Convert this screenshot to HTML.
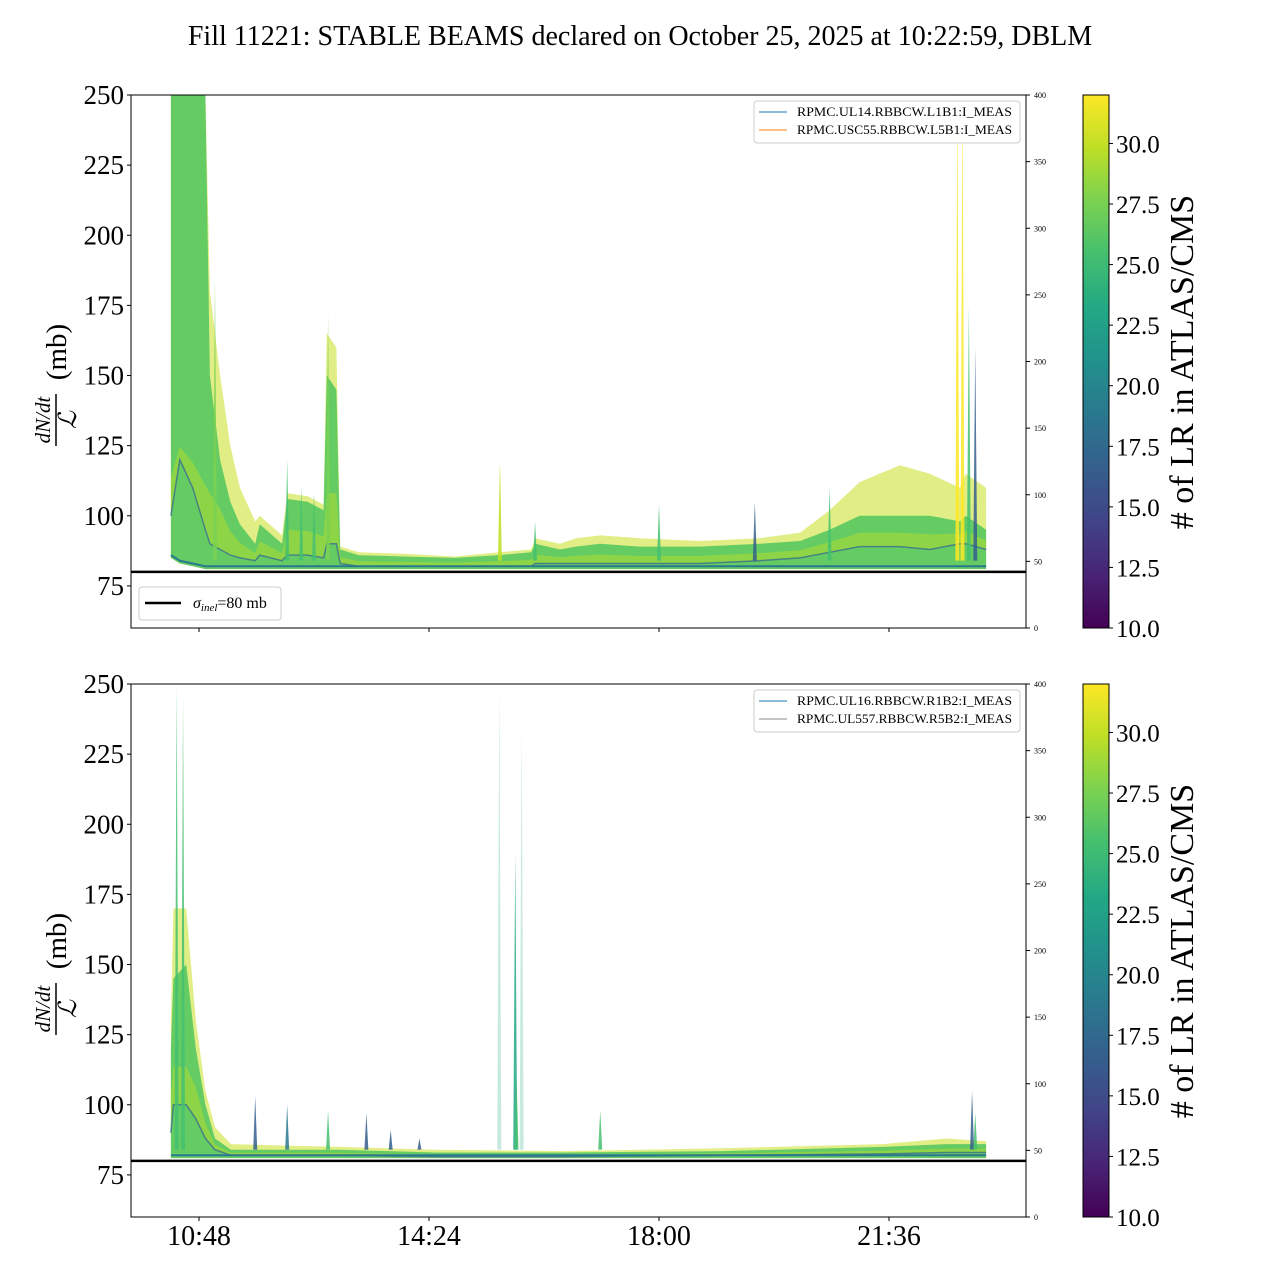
<!DOCTYPE html>
<html><head><meta charset="utf-8">
<style>
html,body{margin:0;padding:0;background:#fff;}
svg{display:block;font-family:"Liberation Serif",serif;}
</style></head>
<body>
<svg id="chart" width="1280" height="1280" viewBox="0 0 1280 1280">
<defs>
<linearGradient id="viridis" x1="0" y1="1" x2="0" y2="0">
<stop offset="0" stop-color="#440154"/><stop offset="0.1" stop-color="#482475"/><stop offset="0.2" stop-color="#414487"/>
<stop offset="0.3" stop-color="#355f8d"/><stop offset="0.4" stop-color="#2a788e"/><stop offset="0.5" stop-color="#21918c"/>
<stop offset="0.6" stop-color="#22a884"/><stop offset="0.7" stop-color="#44bf70"/><stop offset="0.8" stop-color="#7ad151"/>
<stop offset="0.9" stop-color="#bddf26"/><stop offset="1" stop-color="#fde725"/>
</linearGradient>
</defs>
<text x="640" y="45" font-size="28" text-anchor="middle">Fill 11221: STABLE BEAMS declared on October 25, 2025 at 10:22:59, DBLM</text>
<g id="top"></g>
<g id="bot"></g>
</svg>
<script>
// ---- data ----
const xTickLabels = ["10:48","14:24","18:00","21:36"];
const xTickHours = [10.8, 14.4, 18.0, 21.6];
const yTicks = [75,100,125,150,175,200,225,250];
const rightTicks = [0,50,100,150,200,250,300,350,400];
const cbTicks = [10.0,12.5,15.0,17.5,20.0,22.5,25.0,27.5,30.0];

const topT    = [10.36,10.5,10.7,10.9,10.97,11.13,11.29,11.44,11.68,11.75,12.1,12.18,12.5,12.75,12.8,12.95,13.01,13.3,14.0,14.8,15.5,16.0,16.06,16.45,16.7,17.08,17.7,18.64,19.58,20.21,20.67,21.14,21.77,22.24,22.71,22.8,23.12];
const topLow  = [85,83,82,81,81,81,81,81,81,81,81,81,81,81,81,81,81,81,81,81,81,81,81,81,81,81,81,81,81,81,81,81,81,81,81,81,81];
const topDark = [100,120,110,95,90,88,86,85,84,86,84,86,86,85,90,90,83,82,82,82,82,82,83,83,83,83,83,83,84,85,87,89,89,88,90,90,88];
const topMid  = [250,250,250,250,150,120,105,97,90,97,90,106,105,102,150,145,88,86,85.5,85,86,87,90,88,89,90,89,89,90,91,95,100,100,100,98,100,95];
const topHigh = [250,250,250,250,180,150,125,110,98,100,93,108,107,104,165,160,89,87,86.5,85.5,87,88,92,90,92,93,92,91,92,94,102,112,118,115,110,115,110];
const topSpikeT = [11.05,12.18,12.4,12.6,12.82,15.51,16.06,18.0,19.5,20.67,22.67,22.75,22.85,22.95];
const topSpikeV = [185,120,110,108,172,120,98,104,105,110,250,250,175,160];
const topSpikeC = [27,26,26,26,27,29,25,25,17,25,31,31,26,17];

const botT    = [10.36,10.4,10.6,10.75,10.9,11.05,11.3,13.0,14.5,16.5,19.0,21.5,22.5,23.12];
const botLow  = [81,81,81,81,81,81,81,81,81,81,81,81,81,81];
const botDark = [90,100,100,95,88,84,82,82,81.5,81.5,82,82.5,83,83];
const botMid  = [120,145,150,120,100,88,84,84,83,83,83.5,85,86,86];
const botHigh = [130,170,170,130,105,92,86,85,84,83.5,84.5,86,88,87];
const botSpikeT = [10.45,10.55,11.68,12.18,12.82,13.42,13.8,14.25,15.5,15.75,15.85,15.77,17.08,22.9,22.95];
const botSpikeV = [250,245,103,100,98,97,91,88,250,190,235,110,98,105,97];
const botSpikeC = [26,26,17,18,25,17,17,17,24,24,24,26,25,17,26];

// ---- helpers ----
const NS="http://www.w3.org/2000/svg";
const AX_L=131, AX_R=1026;
function xs(h){return 199+(h-10.8)*(230/3.6);}
function mk(tag,attrs,parent){const e=document.createElementNS(NS,tag);for(const k in attrs)e.setAttribute(k,attrs[k]);parent.appendChild(e);return e;}
const vir=["#440154","#482475","#414487","#355f8d","#2a788e","#21918c","#22a884","#44bf70","#7ad151","#bddf26","#fde725"];
function vcol(v){let f=(v-10)/22;f=Math.max(0,Math.min(1,f));return vir[Math.round(f*10)];}

function panel(g,top,T,L,D,M,H,ST,SV,SC,legend,showX,legNames,legColors){
  const bot=top+533;
  const ys=v=>bot-(v-60)*(533/190);
  const yr=v=>bot-v*(533/400);
  const clip="c"+top;
  const cp=mk("clipPath",{id:clip},g);mk("rect",{x:AX_L,y:top,width:AX_R-AX_L,height:533},cp);
  const data=mk("g",{"clip-path":"url(#"+clip+")"},g);
  
  
  function band(lo,hi,fill,op,name){
    let d="M"+T.map((t,i)=>xs(t).toFixed(1)+","+ys(hi[i]).toFixed(1)).join("L");
    for(let i=T.length-1;i>=0;i--)d+="L"+xs(T[i]).toFixed(1)+","+ys(lo[i]).toFixed(1);
    const p=mk("path",{d:d+"Z",fill:fill,"fill-opacity":op},data);
    
    
  }
  band(L,H,"#c8e020",0.55,"band-outer");
  band(L,M,"#5ec962",0.95,"band-mid");
  const inner=M.map((m,i)=>D[i]+(Math.min(m,130)-D[i])*0.45);
  band(D,inner,"#a8db34",0.6,"band-inner");
  const dl=mk("polyline",{points:T.map((t,i)=>xs(t).toFixed(1)+","+ys(D[i]).toFixed(1)).join(" "),fill:"none",stroke:"#3b6f8e","stroke-width":1.5,"stroke-opacity":0.8},data);
  
  
  const ll=mk("polyline",{points:T.map((t,i)=>xs(t).toFixed(1)+","+ys(L[i]+1).toFixed(1)).join(" "),fill:"none",stroke:"#2a788e","stroke-width":2},data);
  
  
  ST.forEach((t,i)=>{
    const x=xs(t);
    const s=mk("path",{d:`M${x-2},${ys(84)} L${x},${ys(SV[i])} L${x+2},${ys(84)}Z`,fill:vcol(SC[i]),"fill-opacity":SV[i]>200&&SC[i]<25?0.25:0.85},data);
    
    
  });
  const sl=mk("line",{x1:AX_L,x2:AX_R,y1:ys(80),y2:ys(80),stroke:"#000","stroke-width":2.5},g);
  
  
  const fr=mk("rect",{x:AX_L,y:top,width:AX_R-AX_L,height:533,fill:"none",stroke:"#000","stroke-width":1},g);
  
  
  yTicks.forEach(v=>{
    mk("line",{x1:AX_L-4,x2:AX_L,y1:ys(v),y2:ys(v),stroke:"#000"},g);
    const t=mk("text",{x:AX_L-7,y:ys(v)+9,"font-size":27,"text-anchor":"end"},g);
    t.textContent=v;
    
    
  });
  rightTicks.forEach(v=>{
    mk("line",{x1:AX_R,x2:AX_R+4,y1:yr(v),y2:yr(v),stroke:"#000"},g);
    const t=mk("text",{x:AX_R+8,y:yr(v)+3,"font-size":8},g);
    t.textContent=v;
    
    
  });
  xTickHours.forEach((h,i)=>{
    mk("line",{x1:xs(h),x2:xs(h),y1:bot,y2:bot+4,stroke:"#000"},g);
    if(showX){
      const t=mk("text",{x:xs(h),y:bot+28,"font-size":28,"text-anchor":"middle"},g);
      t.textContent=xTickLabels[i];
      
      
    }
  });
  const yl=mk("g",{transform:`translate(56,${top+267}) rotate(-90)`},g);
  
  
  const n=mk("text",{x:-58,y:-6,"font-size":21,"font-style":"italic","text-anchor":"middle"},yl);n.textContent="dN/dt";
  mk("line",{x1:-84,x2:-32,y1:0,y2:0,stroke:"#000","stroke-width":1.5},yl);
  const dd=mk("text",{x:-58,y:20,"font-size":25,"font-style":"italic","text-anchor":"middle"},yl);dd.textContent="ℒ";
  const mb=mk("text",{x:10,y:10,"font-size":29,"text-anchor":"middle"},yl);mb.textContent="(mb)";
  const lg=mk("g",{},g);
  
  
  mk("rect",{x:754,y:top+6,width:266,height:42,rx:3,fill:"#fff","fill-opacity":0.85,stroke:"#ccc"},lg);
  legNames.forEach((nm,i)=>{
    mk("line",{x1:759,x2:787,y1:top+17+i*18,y2:top+17+i*18,stroke:legColors[i],"stroke-width":1},lg);
    const t=mk("text",{x:797,y:top+21+i*18,"font-size":13,textLength:215,lengthAdjust:"spacingAndGlyphs"},lg);t.textContent=nm;
    
    
  });
  if(legend){
    const l2=mk("g",{},g);
    
    
    mk("rect",{x:139,y:top+492,width:142,height:33,rx:3,fill:"#fff",stroke:"#ccc"},l2);
    mk("line",{x1:145,x2:181,y1:top+508,y2:top+508,stroke:"#000","stroke-width":2.5},l2);
    const t=mk("text",{x:193,y:top+513,"font-size":16},l2);
    t.innerHTML='<tspan font-style="italic">σ</tspan><tspan font-style="italic" font-size="11" dy="3">inel</tspan><tspan dy="-3">=80 mb</tspan>';
  }
  const cb=mk("g",{},g);
  
  
  mk("rect",{x:1083,y:top,width:26,height:533,fill:"url(#viridis)",stroke:"#000","stroke-width":1},cb);
  cbTicks.forEach(v=>{
    const y=top+533-(v-10)*(533/22);
    mk("line",{x1:1109,x2:1113,y1:y,y2:y,stroke:"#000"},cb);
    const t=mk("text",{x:1116,y:y+9,"font-size":25},cb);t.textContent=v.toFixed(1);
    
    
  });
  const ct=mk("text",{x:0,y:0,"font-size":34,"text-anchor":"middle",transform:`translate(1193,${top+267}) rotate(-90)`},cb);
  ct.textContent="# of LR in ATLAS/CMS";
  
  
}
panel(document.getElementById("top"),95,topT,topLow,topDark,topMid,topHigh,topSpikeT,topSpikeV,topSpikeC,true,false,
  ["RPMC.UL14.RBBCW.L1B1:I_MEAS","RPMC.USC55.RBBCW.L5B1:I_MEAS"],["#1f77b4","#ff7f0e"]);
panel(document.getElementById("bot"),684,botT,botLow,botDark,botMid,botHigh,botSpikeT,botSpikeV,botSpikeC,false,true,
  ["RPMC.UL16.RBBCW.R1B2:I_MEAS","RPMC.UL557.RBBCW.R5B2:I_MEAS"],["#1f77b4","#888888"]);
</script>
</body></html>
